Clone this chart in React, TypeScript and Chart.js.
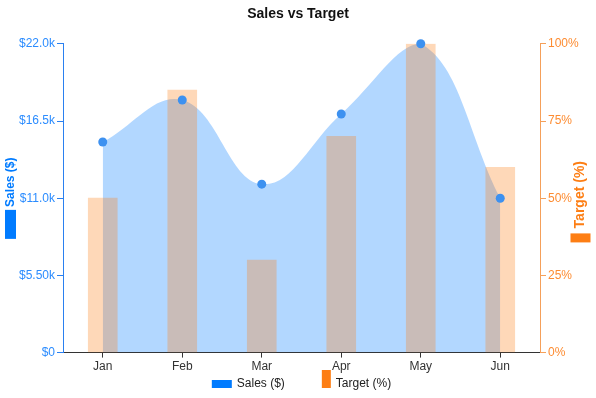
import React, { useEffect, useRef } from "react";
import { Chart, registerables } from "chart.js";

Chart.register(...registerables);

const months = ["Jan", "Feb", "Mar", "Apr", "May", "Jun"];
const salesValues = [15000, 18000, 12000, 17000, 22000, 11000];
const targetValues = [50, 85, 30, 70, 100, 60];
const salesMax = 22000;
const salesStep = 5500;
const targetMax = 100;
const targetStep = 25;

const FONT = "'Liberation Sans', Arial, Helvetica, sans-serif";
const BLUE = "#007bff";
const ORANGE = "#fd7e14";
const BLUE_TICK = "#2b8cff";
const ORANGE_TICK = "#fd8c32";
const BLUE_AXIS = "#2a80f0";
const ORANGE_AXIS = "#f5a05a";

function drawAxisTitle(
  ctx: CanvasRenderingContext2D,
  x: number,
  centerY: number,
  text: string,
  font: string,
  color: string,
  rectLen: number,
  rectThick: number,
  gap: number
) {
  ctx.save();
  ctx.font = font;
  const tw = ctx.measureText(text).width;
  const total = rectLen + gap + tw;
  const yBottom = centerY + total / 2;
  ctx.translate(x, yBottom);
  ctx.rotate(-Math.PI / 2);
  ctx.fillStyle = color;
  ctx.fillRect(0, -rectThick / 2, rectLen, rectThick);
  ctx.textAlign = "left";
  ctx.textBaseline = "middle";
  ctx.fillText(text, rectLen + gap, 0);
  ctx.restore();
}

const decorPlugin = {
  id: "decor",
  afterDraw(chart: any) {
    const ctx: CanvasRenderingContext2D = chart.ctx;
    const ca = chart.chartArea;
    const cy = (ca.top + ca.bottom) / 2;
    drawAxisTitle(ctx, 10.5, cy, "Sales ($)", `bold 12px ${FONT}`, BLUE, 29, 11, 3);
    drawAxisTitle(ctx, 580.5, cy + 3.5, "Target (%)", `bold 14px ${FONT}`, ORANGE, 9, 20, 5);

    // legend
    const ds = chart.data.datasets;
    ctx.save();
    ctx.font = `12px ${FONT}`;
    const t1 = ds[0].label as string;
    const t2 = ds[1].label as string;
    const w1 = ctx.measureText(t1).width;
    const w2 = ctx.measureText(t2).width;
    const total = 20 + 5 + w1 + 37 + 9 + 5 + w2;
    const cx = (ca.left + ca.right) / 2;
    let x = cx - total / 2;
    const base = 388;
    ctx.fillStyle = BLUE;
    ctx.fillRect(x, base - 8, 20, 8);
    ctx.fillStyle = "#222";
    ctx.textAlign = "left";
    ctx.textBaseline = "middle";
    ctx.fillText(t1, x + 25, base - 4);
    x += 25 + w1 + 37;
    ctx.fillStyle = ORANGE;
    ctx.fillRect(x, base - 18, 9, 18);
    ctx.fillStyle = "#222";
    ctx.fillText(t2, x + 14, base - 4);
    ctx.restore();
  },
};

export default function App() {
  const ref = useRef<HTMLCanvasElement | null>(null);

  useEffect(() => {
    document.body.style.margin = "0";
    if (!ref.current) return;
    Chart.defaults.font.family = FONT;
    const chart = new Chart(ref.current, {
      type: "bar",
      data: {
        labels: months,
        datasets: [
          {
            type: "line",
            label: "Sales ($)",
            data: salesValues,
            yAxisID: "ySales",
            fill: "origin",
            backgroundColor: "rgba(0,123,255,0.3)",
            borderColor: "rgba(0,0,0,0)",
            borderWidth: 0,
            tension: 0.4,
            pointRadius: 4.5,
            pointBackgroundColor: "#3d91f0",
            pointBorderColor: "#3d91f0",
            pointBorderWidth: 0,
            clip: false,
            order: 0,
          } as any,
          {
            type: "bar",
            label: "Target (%)",
            data: targetValues,
            yAxisID: "yTarget",
            backgroundColor: "rgba(253,126,20,0.3)",
            borderWidth: 0,
            barThickness: 29,
            order: 1,
          } as any,
        ],
      },
      options: {
        responsive: false,
        animation: false,
        layout: { padding: { bottom: 22 } },
        plugins: {
          legend: { display: false },
          tooltip: { enabled: false },
          filler: { drawTime: "beforeDatasetsDraw" } as any,
          title: {
            display: true,
            text: "Sales vs Target",
            color: "#111",
            font: { size: 14, weight: "bold", family: FONT },
            padding: { top: 6, bottom: 21 },
          },
        },
        scales: {
          x: {
            grid: {
              display: true,
              drawOnChartArea: false,
              drawTicks: true,
              tickLength: 5,
              offset: false,
              color: "#333",
            },
            border: { display: true, color: "#333" },
            ticks: { color: "#333", font: { size: 12, family: FONT }, padding: 2 },
          },
          ySales: {
            type: "linear",
            position: "left",
            min: 0,
            max: salesMax,
            afterFit: (s: any) => {
              s.width = 63;
            },
            ticks: {
              stepSize: salesStep,
              color: BLUE_TICK,
              padding: 2,
              font: { size: 12, family: FONT },
              callback: (v: any) =>
                Number(v) === 0 ? "$0" : "$" + (Number(v) / 1000).toPrecision(3) + "k",
            },
            grid: {
              display: true,
              drawOnChartArea: false,
              drawTicks: true,
              tickLength: 6,
              color: BLUE_AXIS,
            },
            border: { display: true, color: BLUE_AXIS },
          },
          yTarget: {
            type: "linear",
            position: "right",
            min: 0,
            max: targetMax,
            afterFit: (s: any) => {
              s.width = 56;
            },
            ticks: {
              stepSize: targetStep,
              color: ORANGE_TICK,
              padding: 2,
              font: { size: 12, family: FONT },
              callback: (v: any) => v + "%",
            },
            grid: {
              display: true,
              drawOnChartArea: false,
              drawTicks: true,
              tickLength: 6,
              color: ORANGE_AXIS,
            },
            border: { display: true, color: ORANGE_AXIS },
          },
        },
      },
      plugins: [decorPlugin],
    });
    return () => chart.destroy();
  }, []);

  return (
    <div style={{ width: 596, height: 398 }}>
      <canvas ref={ref} width={596} height={398} />
    </div>
  );
}
